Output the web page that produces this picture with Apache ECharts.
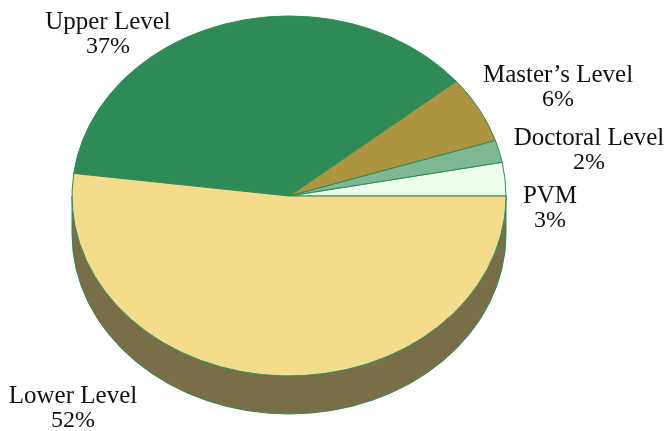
<!DOCTYPE html>
<html>
<head>
<meta charset="utf-8">
<style>html,body{margin:0;padding:0;background:#fff}#c{width:666px;height:431px}</style>
<script src="https://cdn.jsdelivr.net/npm/echarts@6/dist/echarts.min.js"></script>
</head>
<body>
<div id="c"></div>
<script>
const categories = ["PVM", "Doctoral Level", "Master\u2019s Level", "Upper Level", "Lower Level"];
const shares = [3, 2, 6, 37, 52];
const sliceColors = ["#eefeec", "#7fb994", "#ad9440", "#2e8b57", "#f5dc8c"];
const wallColors = ["#77806f", "#3f5c4a", "#564a20", "#17452b", "#7a6e48"];
const labelCenters = [[550, 196], [589, 138], [558, 75], [108, 22], [73, 396]];

const CX = 289, CY = 196, RX = 217, RY = 180, DEPTH = 38, LINE = 25;
const EDGE = "#2e8b57";
const NAME_FONT = '25px "Liberation Serif", serif', PCT_FONT = '24px "Liberation Serif", serif';
const total = shares.reduce((a, b) => a + b, 0);
const pt = (deg, dy) => {
  const r = deg * Math.PI / 180;
  return [CX + RX * Math.cos(r), CY + dy - RY * Math.sin(r)];
};
function wedgePath(a0, a1) {
  const p0 = pt(a0, 0), p1 = pt(a1, 0);
  return `M${CX} ${CY}L${p0[0]} ${p0[1]}A${RX} ${RY} 0 ${a1 - a0 > 180 ? 1 : 0} 0 ${p1[0]} ${p1[1]}Z`;
}
function wallPath(a0, a1) {
  const p0 = pt(a0, 0), p1 = pt(a1, 0), q0 = pt(a0, DEPTH), q1 = pt(a1, DEPTH);
  return `M${p0[0]} ${p0[1]}A${RX} ${RY} 0 0 0 ${p1[0]} ${p1[1]}L${q1[0]} ${q1[1]}A${RX} ${RY} 0 0 1 ${q0[0]} ${q0[1]}Z`;
}
function renderSlice(params, api) {
  const i = params.dataIndex;
  let before = 0;
  for (let k = 0; k < i; k++) before += shares[k];
  const value = api.value(0);
  const a0 = before / total * 360, a1 = (before + value) / total * 360;
  const children = [];
  const w0 = Math.max(a0, 180), w1 = Math.min(a1, 360);
  if (w1 > w0) {
    children.push({ type: "path", shape: { pathData: wallPath(w0, w1) },
      style: { fill: wallColors[i], stroke: EDGE, lineWidth: 1 } });
  }
  children.push({ type: "path", shape: { pathData: wedgePath(a0, a1) },
    style: { fill: sliceColors[i], stroke: EDGE, lineWidth: 1 } });
  const c = labelCenters[i];
  [categories[i], value + "%"].forEach((t, n) => {
    children.push({ type: "text", z2: 10, style: { text: t, x: c[0], y: c[1] + n * LINE,
      align: "center", verticalAlign: "middle", font: n ? PCT_FONT : NAME_FONT, fill: "#111" } });
  });
  return { type: "group", children };
}
const chart = echarts.init(document.getElementById("c"), null, { renderer: "canvas" });
chart.setOption({
  animation: false,
  backgroundColor: "#fff",
  series: [{
    type: "custom",
    coordinateSystem: "none",
    renderItem: renderSlice,
    data: shares.map(v => [v]),
    silent: true
  }]
});
</script>
</body>
</html>
